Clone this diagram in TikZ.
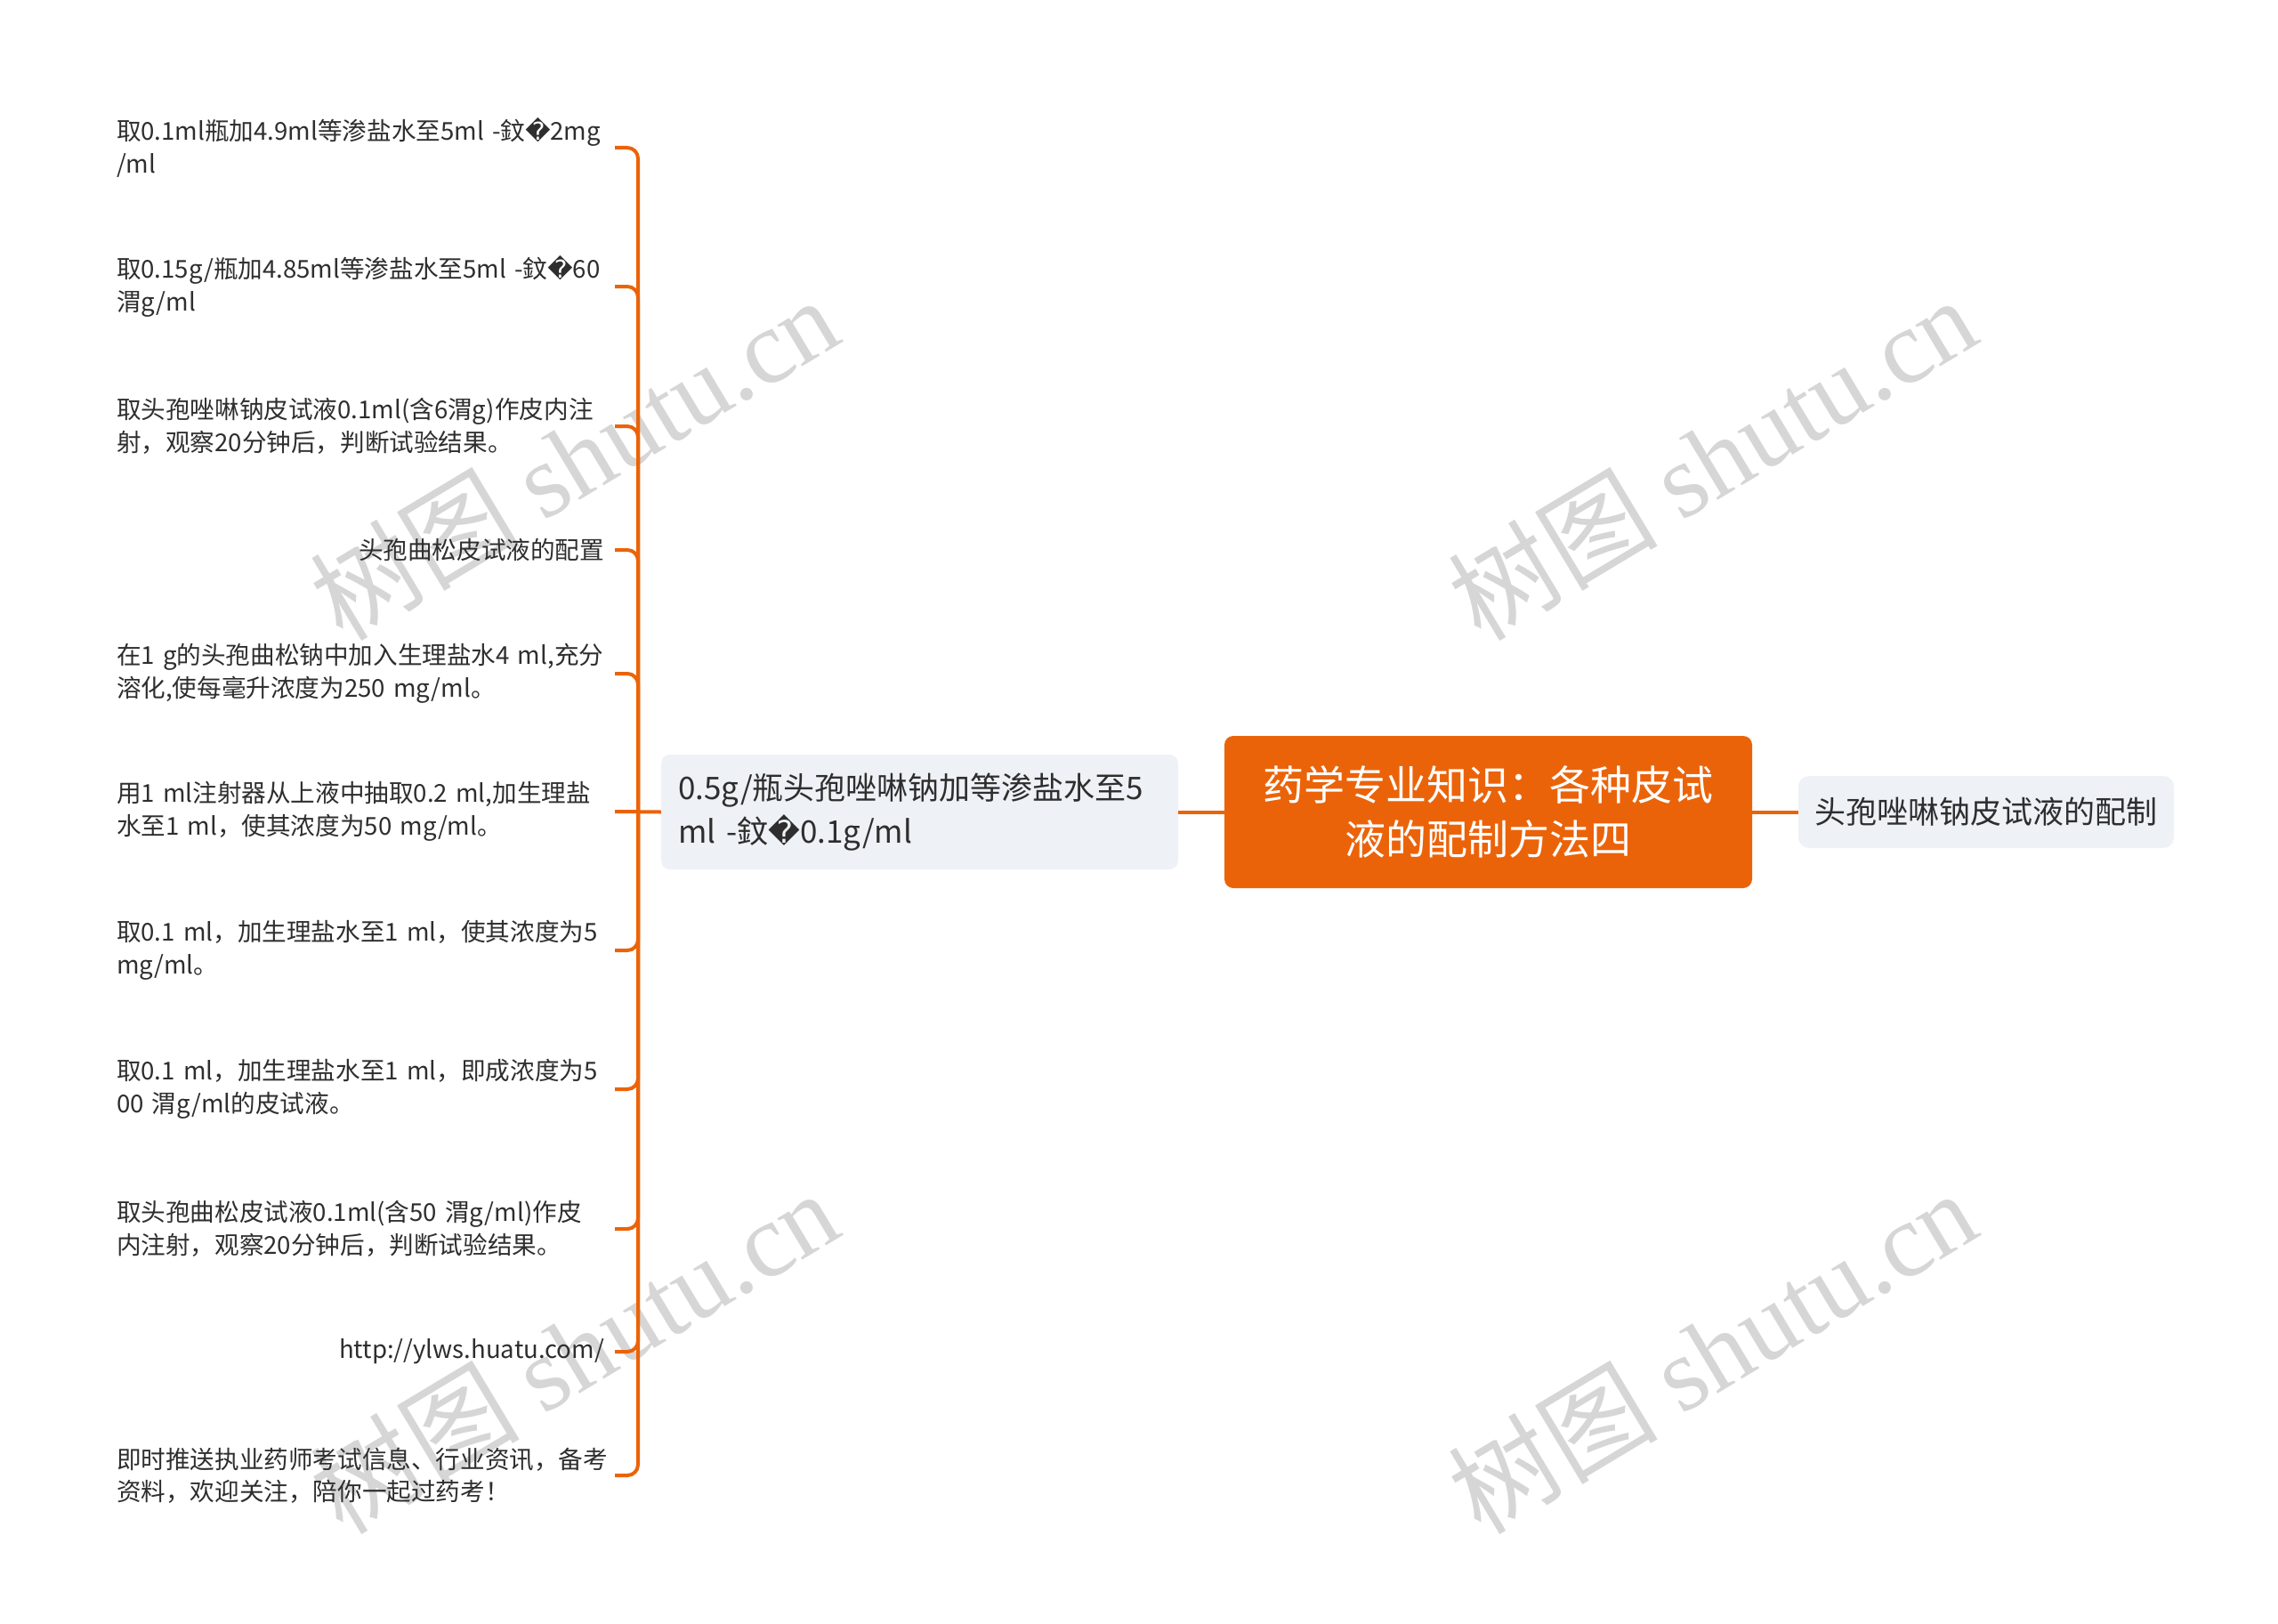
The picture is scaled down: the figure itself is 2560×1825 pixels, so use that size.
\documentclass[tikz,border=0pt]{standalone}
\usepackage{fontspec}
\setmainfont{Noto Sans CJK SC}
\newfontfamily\dvfont{DejaVu Sans}
\newfontfamily\wmserif{Liberation Serif}
\newcommand{\rchar}{{\dvfont\symbol{"FFFD}}}
\definecolor{brand}{HTML}{EB6309}
\definecolor{boxfill}{HTML}{EEF1F5}
\definecolor{txt}{HTML}{2E2E2E}
\definecolor{wm}{HTML}{D6D6D6}
\begin{document}
\begin{tikzpicture}[x=1pt,y=-1pt,
  leaf/.style={font=\fontsize{27.6}{36.5}\selectfont, text=txt, inner xsep=0pt, inner ysep=2pt,
    outer xsep=12pt, outer ysep=0pt, text width=548pt, anchor=east},
  leafl/.style={leaf, align=left},
  leafr/.style={leaf, align=right},
  conn/.style={draw=brand, line width=4pt},
  rootbox/.style={fill=brand, rounded corners=10pt, text=white, font=\fontsize{46}{61}\selectfont,
    minimum width=593pt, minimum height=171pt, align=center, inner sep=0pt},
  midbox/.style={fill=boxfill, rounded corners=10pt, text=txt, font=\fontsize{35}{49}\selectfont,
    inner xsep=19pt, inner ysep=0pt, minimum width=581pt, minimum height=129pt, text width=543pt, align=left},
  rtbox/.style={fill=boxfill, rounded corners=12pt, text=txt, font=\fontsize{35}{42}\selectfont,
    inner sep=0pt, minimum width=422pt, minimum height=81pt, align=center},
  wmark/.style={text=wm, rotate=31, inner sep=0pt, font=\fontsize{118}{118}\selectfont}
]
\useasboundingbox (0,0) rectangle (2560,1825);
\fill[white] (0,0) rectangle (2560,1825);

% watermarks
\node[wmark] (wm1) at (645,514) {树图 {\wmserif shutu.cn}};
\node[wmark] (wm2) at (1924,514) {树图 {\wmserif shutu.cn}};
\node[wmark] (wm3) at (645,1518) {树图 {\wmserif shutu.cn}};
\node[wmark] (wm4) at (1924,1518) {树图 {\wmserif shutu.cn}};

% main nodes
\node[rootbox] (root) at (1672.5,912.5) {药学专业知识：各种皮试\\液的配制方法四};
\node[midbox] (mid) at (1033.5,912.5) {0.5g/瓶头孢唑啉钠加等渗盐水至5\\ml -鈫\rchar0.1g/ml};
\node[rtbox] (rt) at (2232,912.5) {头孢唑啉钠皮试液的配制};

% leaves
\node[leafl] (l1) at (691,166) {取0.1ml瓶加4.9ml等渗盐水至5ml -鈫\rchar2mg\\/ml};
\node[leafl] (l2) at (691,322) {取0.15g/瓶加4.85ml等渗盐水至5ml -鈫\rchar60\\渭g/ml};
\node[leafl] (l3) at (691,479) {取头孢唑啉钠皮试液0.1ml(含6渭g)作皮内注\\射，观察20分钟后，判断试验结果。};
\node[leafr] (l4) at (691,618) {头孢曲松皮试液的配置};
\node[leafl] (l5) at (691,757) {在1 g的头孢曲松钠中加入生理盐水4 ml,充分\\溶化,使每毫升浓度为250 mg/ml。};
\node[leafl] (l6) at (691,912) {用1 ml注射器从上液中抽取0.2 ml,加生理盐\\水至1 ml，使其浓度为50 mg/ml。};
\node[leafl] (l7) at (691,1068) {取0.1 ml，加生理盐水至1 ml，使其浓度为5\\mg/ml。};
\node[leafl] (l8) at (691,1224) {取0.1 ml，加生理盐水至1 ml，即成浓度为5\\00 渭g/ml的皮试液。};
\node[leafl] (l9) at (691,1381) {取头孢曲松皮试液0.1ml(含50 渭g/ml)作皮\\内注射，观察20分钟后，判断试验结果。};
\node[leafr] (l10) at (691,1519) {http://ylws.huatu.com/};
\node[leafl] (l11) at (691,1658) {即时推送执业药师考试信息、行业资讯，备考\\资料，欢迎关注，陪你一起过药考！};

% connectors
\draw[conn] (root.west) -- (mid.east);
\draw[conn] (root.east) -- (rt.west);
\coordinate (spine) at (717,912);
\draw[conn] (mid.west) -- (l6.east);
\foreach \k in {1,2,3,4,5,7,8,9,10,11}{
  \draw[conn, rounded corners=12pt] (spine) |- (l\k.east);
}
\end{tikzpicture}
\end{document}
